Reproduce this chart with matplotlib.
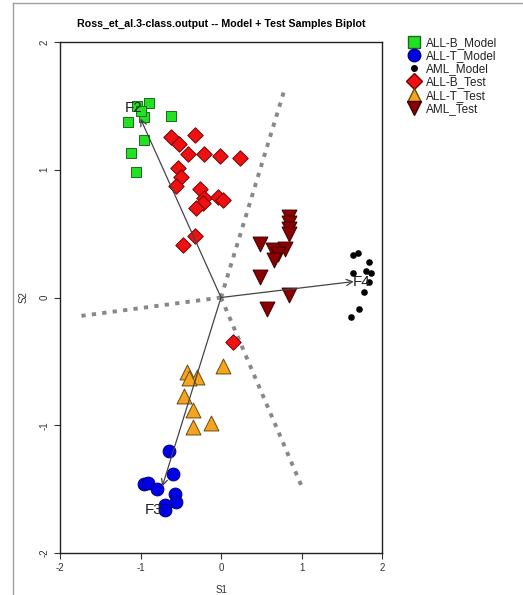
import matplotlib.pyplot as plt
from matplotlib.lines import Line2D

plt.rcParams['font.family'] = ['Liberation Sans', 'DejaVu Sans']
plt.rcParams['axes.unicode_minus'] = False

# sample scores
allb_model_x = [-0.90, -1.04, -0.96, -1.15, -0.62, -0.96, -1.12, -1.06, -1.00]
allb_model_y = [1.52, 1.50, 1.41, 1.37, 1.42, 1.23, 1.13, 0.98, 1.46]
allt_model_x = [-0.65, -0.60, -0.96, -0.91, -0.79, -0.575, -0.56, -0.69, -0.69]
allt_model_y = [-1.20, -1.38, -1.46, -1.45, -1.50, -1.54, -1.60, -1.625, -1.66]
aml_model_x = [1.64, 1.70, 1.84, 1.64, 1.80, 1.86, 1.84, 1.78, 1.71, 1.61]
aml_model_y = [0.335, 0.345, 0.28, 0.19, 0.21, 0.19, 0.12, 0.04, -0.09, -0.15]
allb_test_x = [-0.625, -0.525, -0.325, -0.41, -0.21, -0.01, 0.24, -0.54, -0.50, -0.56,
               -0.26, -0.21, -0.225, -0.31, -0.04, 0.025, -0.325, -0.475, 0.15]
allb_test_y = [1.26, 1.20, 1.27, 1.125, 1.125, 1.11, 1.09, 1.01, 0.945, 0.875,
               0.85, 0.78, 0.74, 0.70, 0.79, 0.765, 0.48, 0.41, -0.35]
allt_test_x = [-0.425, -0.30, -0.40, 0.025, -0.46, -0.35, -0.35, -0.125]
allt_test_y = [-0.58, -0.625, -0.63, -0.54, -0.77, -0.88, -1.01, -0.98]
aml_test_x = [0.85, 0.85, 0.85, 0.84, 0.49, 0.65, 0.79, 0.71, 0.66, 0.49, 0.85, 0.575]
aml_test_y = [0.63, 0.585, 0.54, 0.50, 0.42, 0.37, 0.38, 0.34, 0.29, 0.16, 0.02, -0.09]

# feature arrows and class boundaries
feat_names = ['F2', 'F3', 'F4']
feat_x = [-1.0, -0.73, 1.65]
feat_y = [1.40, -1.48, 0.125]
label_x = [-1.09, -0.84, 1.75]
label_y = [1.48, -1.66, 0.12]
bound_x = [0.79, -1.81, 1.01]
bound_y = [1.63, -0.15, -1.49]

fig = plt.figure(figsize=(5.23, 5.95), dpi=100)
ax = fig.add_axes([60 / 523, 1 - 553 / 595, 322 / 523, 511 / 595])

for bx, by in zip(bound_x, bound_y):
    ax.plot([0, bx], [0, by], color='#888888', lw=2.8, dashes=(1.1, 1.6),
            solid_capstyle='butt', zorder=1)

ax.scatter(allb_model_x, allb_model_y, marker='s', s=60, c='#22e022', edgecolors='#1a6a1a',
           linewidths=0.7, zorder=3, label='ALL-B_Model')
ax.scatter(allt_model_x, allt_model_y, marker='o', s=85, c='#0000e6', edgecolors='#00007a',
           linewidths=0.7, zorder=3, label='ALL-T_Model')
ax.scatter(aml_model_x, aml_model_y, marker='o', s=14, c='black', zorder=3, label='AML_Model')
ax.scatter(allb_test_x, allb_test_y, marker='D', s=62, c='#ee1111', edgecolors='#7a0000',
           linewidths=0.7, zorder=3, label='ALL-B_Test')
ax.scatter(allt_test_x, allt_test_y, marker='^', s=115, c='#f5a41e', edgecolors='#6a4a10',
           linewidths=0.7, zorder=3, label='ALL-T_Test')
ax.scatter(aml_test_x, aml_test_y, marker='v', s=115, c='#8b0000', edgecolors='#3a0000',
           linewidths=0.7, zorder=3, label='AML_Test')

for name, fx, fy, lx, ly in zip(feat_names, feat_x, feat_y, label_x, label_y):
    ax.annotate('', xy=(fx, fy), xytext=(0, 0),
                arrowprops=dict(arrowstyle='->', color='#444444', lw=0.9,
                                shrinkA=0, shrinkB=0, mutation_scale=11), zorder=4)
    ax.text(lx, ly, name, fontsize=11, ha='center', va='center', color='#222222', zorder=5)

ax.set_xlim(-2, 2)
ax.set_ylim(-2, 2)
ax.set_xticks([-2, -1, 0, 1, 2])
ax.set_yticks([-2, -1, 0, 1, 2])
ax.tick_params(labelsize=7, length=4, width=0.8, colors='#333333')
for lab in ax.get_yticklabels():
    lab.set_rotation(90)
    lab.set_va('center')
for sp in ax.spines.values():
    sp.set_linewidth(1.0)
    sp.set_color('#222222')
ax.set_xlabel('S1', fontsize=7, color='#333333', labelpad=8)
ax.set_ylabel('S2', fontsize=7, color='#333333', labelpad=8)
ax.set_title('Ross_et_al.3-class.output -- Model + Test Samples Biplot',
             fontsize=7.7, fontweight='bold', pad=11)

handles = [
    Line2D([], [], ls='', marker='s', ms=8, mfc='#22e022', mec='#1a6a1a'),
    Line2D([], [], ls='', marker='o', ms=9, mfc='#0000e6', mec='#00007a'),
    Line2D([], [], ls='', marker='o', ms=4, mfc='black', mec='black'),
    Line2D([], [], ls='', marker='D', ms=8, mfc='#ee1111', mec='#7a0000'),
    Line2D([], [], ls='', marker='^', ms=10, mfc='#f5a41e', mec='#6a4a10'),
    Line2D([], [], ls='', marker='v', ms=10, mfc='#8b0000', mec='#3a0000'),
]
labels = ['ALL-B_Model', 'ALL-T_Model', 'AML_Model', 'ALL-B_Test', 'ALL-T_Test', 'AML_Test']
fig.legend(handles, labels, loc='upper left', bbox_to_anchor=(408 / 523, 1 - 37 / 595),
           frameon=False, fontsize=8.5, labelspacing=0.1, handlelength=1.0,
           handletextpad=0.5, borderaxespad=0, borderpad=0, labelcolor='#222222')

# grey frame of the original screenshot
fig.add_artist(Line2D([13 / 523, 13 / 523], [0, 1 - 3 / 595], color='#a0a0a0', lw=1))
fig.add_artist(Line2D([13 / 523, 1], [1 - 3 / 595, 1 - 3 / 595], color='#a0a0a0', lw=1))

fig.savefig('out.png', dpi=100)
